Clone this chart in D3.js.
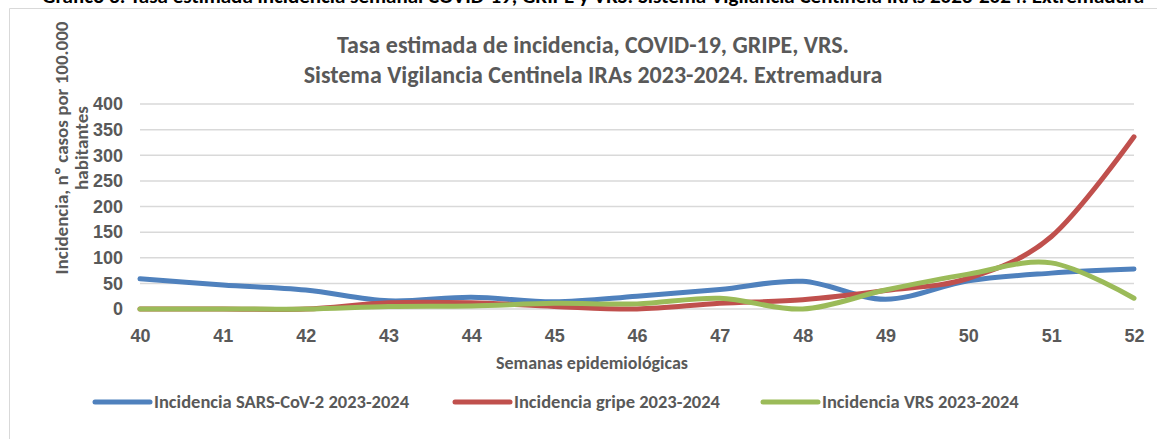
<!DOCTYPE html>
<html>
<head>
<meta charset="utf-8">
<script src="https://cdn.jsdelivr.net/npm/d3@7"></script>
<style>
    body { margin: 0; background: #fff; }
    svg { display: block; font-family: Carlito, "Liberation Sans Narrow", "Open Sans", sans-serif; }
    .axis text { fill: #595959; font-weight: bold; font-size: 18px; }
    .axis path, .axis line { display: none; }
</style>
</head>
<body>
<svg id="chart"></svg>
<script>
// Semanas epidemiológicas
const weeks = [40, 41, 42, 43, 44, 45, 46, 47, 48, 49, 50, 51, 52];
const yTicks = [0, 50, 100, 150, 200, 250, 300, 350, 400];

// tasas por 100.000 habitantes
const covid = [59, 47, 37, 16, 23, 14, 25, 38, 54, 19, 55, 70, 78];
const gripe = [0, 0, 0, 12, 12, 5, 0, 11, 18, 36, 60, 141, 336];
const vrs = [0, 0, 0, 5, 6, 11, 10, 21, 0, 37, 68, 90, 21];

const seriesNames = [
    "Incidencia SARS-CoV-2 2023-2024",
    "Incidencia gripe 2023-2024",
    "Incidencia VRS 2023-2024",
];
const seriesColors = ["#4f81bd", "#c0504d", "#9bbb59"];

const config = {
    width: 1157,
    height: 439,
    margin: { top: 104, right: 23, bottom: 130, left: 140 },
};

const svg = d3
    .select("#chart")
    .attr("width", config.width)
    .attr("height", config.height);

// caption of the document, cut at the top
svg.append("text")
    .attr("x", 42)
    .attr("y", 3)
    .attr("fill", "#000")
    .attr("font-weight", "bold")
    .attr("font-size", 21)
    .text("Gráfico 3. Tasa estimada incidencia semanal COVID-19, GRIPE y VRS. Sistema Vigilancia Centinela IRAs 2023-2024. Extremadura");

// chart frame
svg.append("path")
    .attr("d", `M9.5,${config.height} V8.5 H${config.width}`)
    .attr("fill", "none")
    .attr("stroke", "#d9d9d9")
    .attr("stroke-width", 1);

const innerW = config.width - config.margin.left - config.margin.right;
const innerH = config.height - config.margin.top - config.margin.bottom;

const x = d3.scaleLinear().domain([40, 52]).range([0, innerW]);
const y = d3.scaleLinear().domain([0, 400]).range([innerH, 0]);

const chart = svg
    .append("g")
    .attr("transform", `translate(${config.margin.left},${config.margin.top})`);

// gridlines
chart.append("g")
    .selectAll("line")
    .data(yTicks)
    .join("line")
    .attr("x1", 0)
    .attr("x2", innerW)
    .attr("y1", (d) => y(d))
    .attr("y2", (d) => y(d))
    .attr("stroke", "#d9d9d9")
    .attr("stroke-width", 1.5);

// axes
chart.append("g")
    .attr("class", "axis")
    .call(d3.axisLeft(y).tickValues(yTicks).tickSize(0).tickPadding(17));

chart.append("g")
    .attr("class", "axis")
    .attr("transform", `translate(0,${innerH})`)
    .call(d3.axisBottom(x).tickValues(weeks).tickFormat(d3.format("d")).tickSize(0).tickPadding(20));

// lines
const line = d3
    .line()
    .x((d, i) => x(weeks[i]))
    .y((d) => y(d))
    .curve(d3.curveCatmullRom.alpha(0));

[covid, gripe, vrs].forEach((vals, i) => {
    chart.append("path")
        .datum(vals)
        .attr("fill", "none")
        .attr("stroke", seriesColors[i])
        .attr("stroke-width", 5)
        .attr("stroke-linecap", "round")
        .attr("d", line);
});

// titles
const title = svg.append("text")
    .attr("text-anchor", "middle")
    .attr("fill", "#595959")
    .attr("font-weight", "bold")
    .attr("font-size", 24);
title.append("tspan").attr("x", 593).attr("y", 53).text("Tasa estimada de incidencia, COVID-19, GRIPE, VRS.");
title.append("tspan").attr("x", 593).attr("y", 83).text("Sistema Vigilancia Centinela IRAs 2023-2024. Extremadura");

svg.append("text")
    .attr("x", 592)
    .attr("y", 369)
    .attr("text-anchor", "middle")
    .attr("fill", "#595959")
    .attr("font-weight", "bold")
    .attr("font-size", 18)
    .text("Semanas epidemiológicas");

const yLabel = svg.append("text")
    .attr("transform", "translate(68,148) rotate(-90)")
    .attr("text-anchor", "middle")
    .attr("fill", "#595959")
    .attr("font-weight", "bold")
    .attr("font-size", 19);
yLabel.append("tspan").attr("x", 0).attr("y", 0).text("Incidencia, nº casos por 100.000");
yLabel.append("tspan").attr("x", 0).attr("y", 20).text("habitantes");

// legend
const legendX = [95, 455, 763];
const legend = svg.append("g")
    .selectAll("g")
    .data(seriesNames)
    .join("g")
    .attr("transform", (d, i) => `translate(${legendX[i]},402)`);
legend.append("line")
    .attr("x1", 0)
    .attr("x2", 55)
    .attr("stroke", (d, i) => seriesColors[i])
    .attr("stroke-width", 5)
    .attr("stroke-linecap", "round");
legend.append("text")
    .attr("x", 59)
    .attr("dy", "0.35em")
    .attr("fill", "#595959")
    .attr("font-weight", "bold")
    .attr("font-size", 18.5)
    .text((d) => d);
</script>
</body>
</html>
